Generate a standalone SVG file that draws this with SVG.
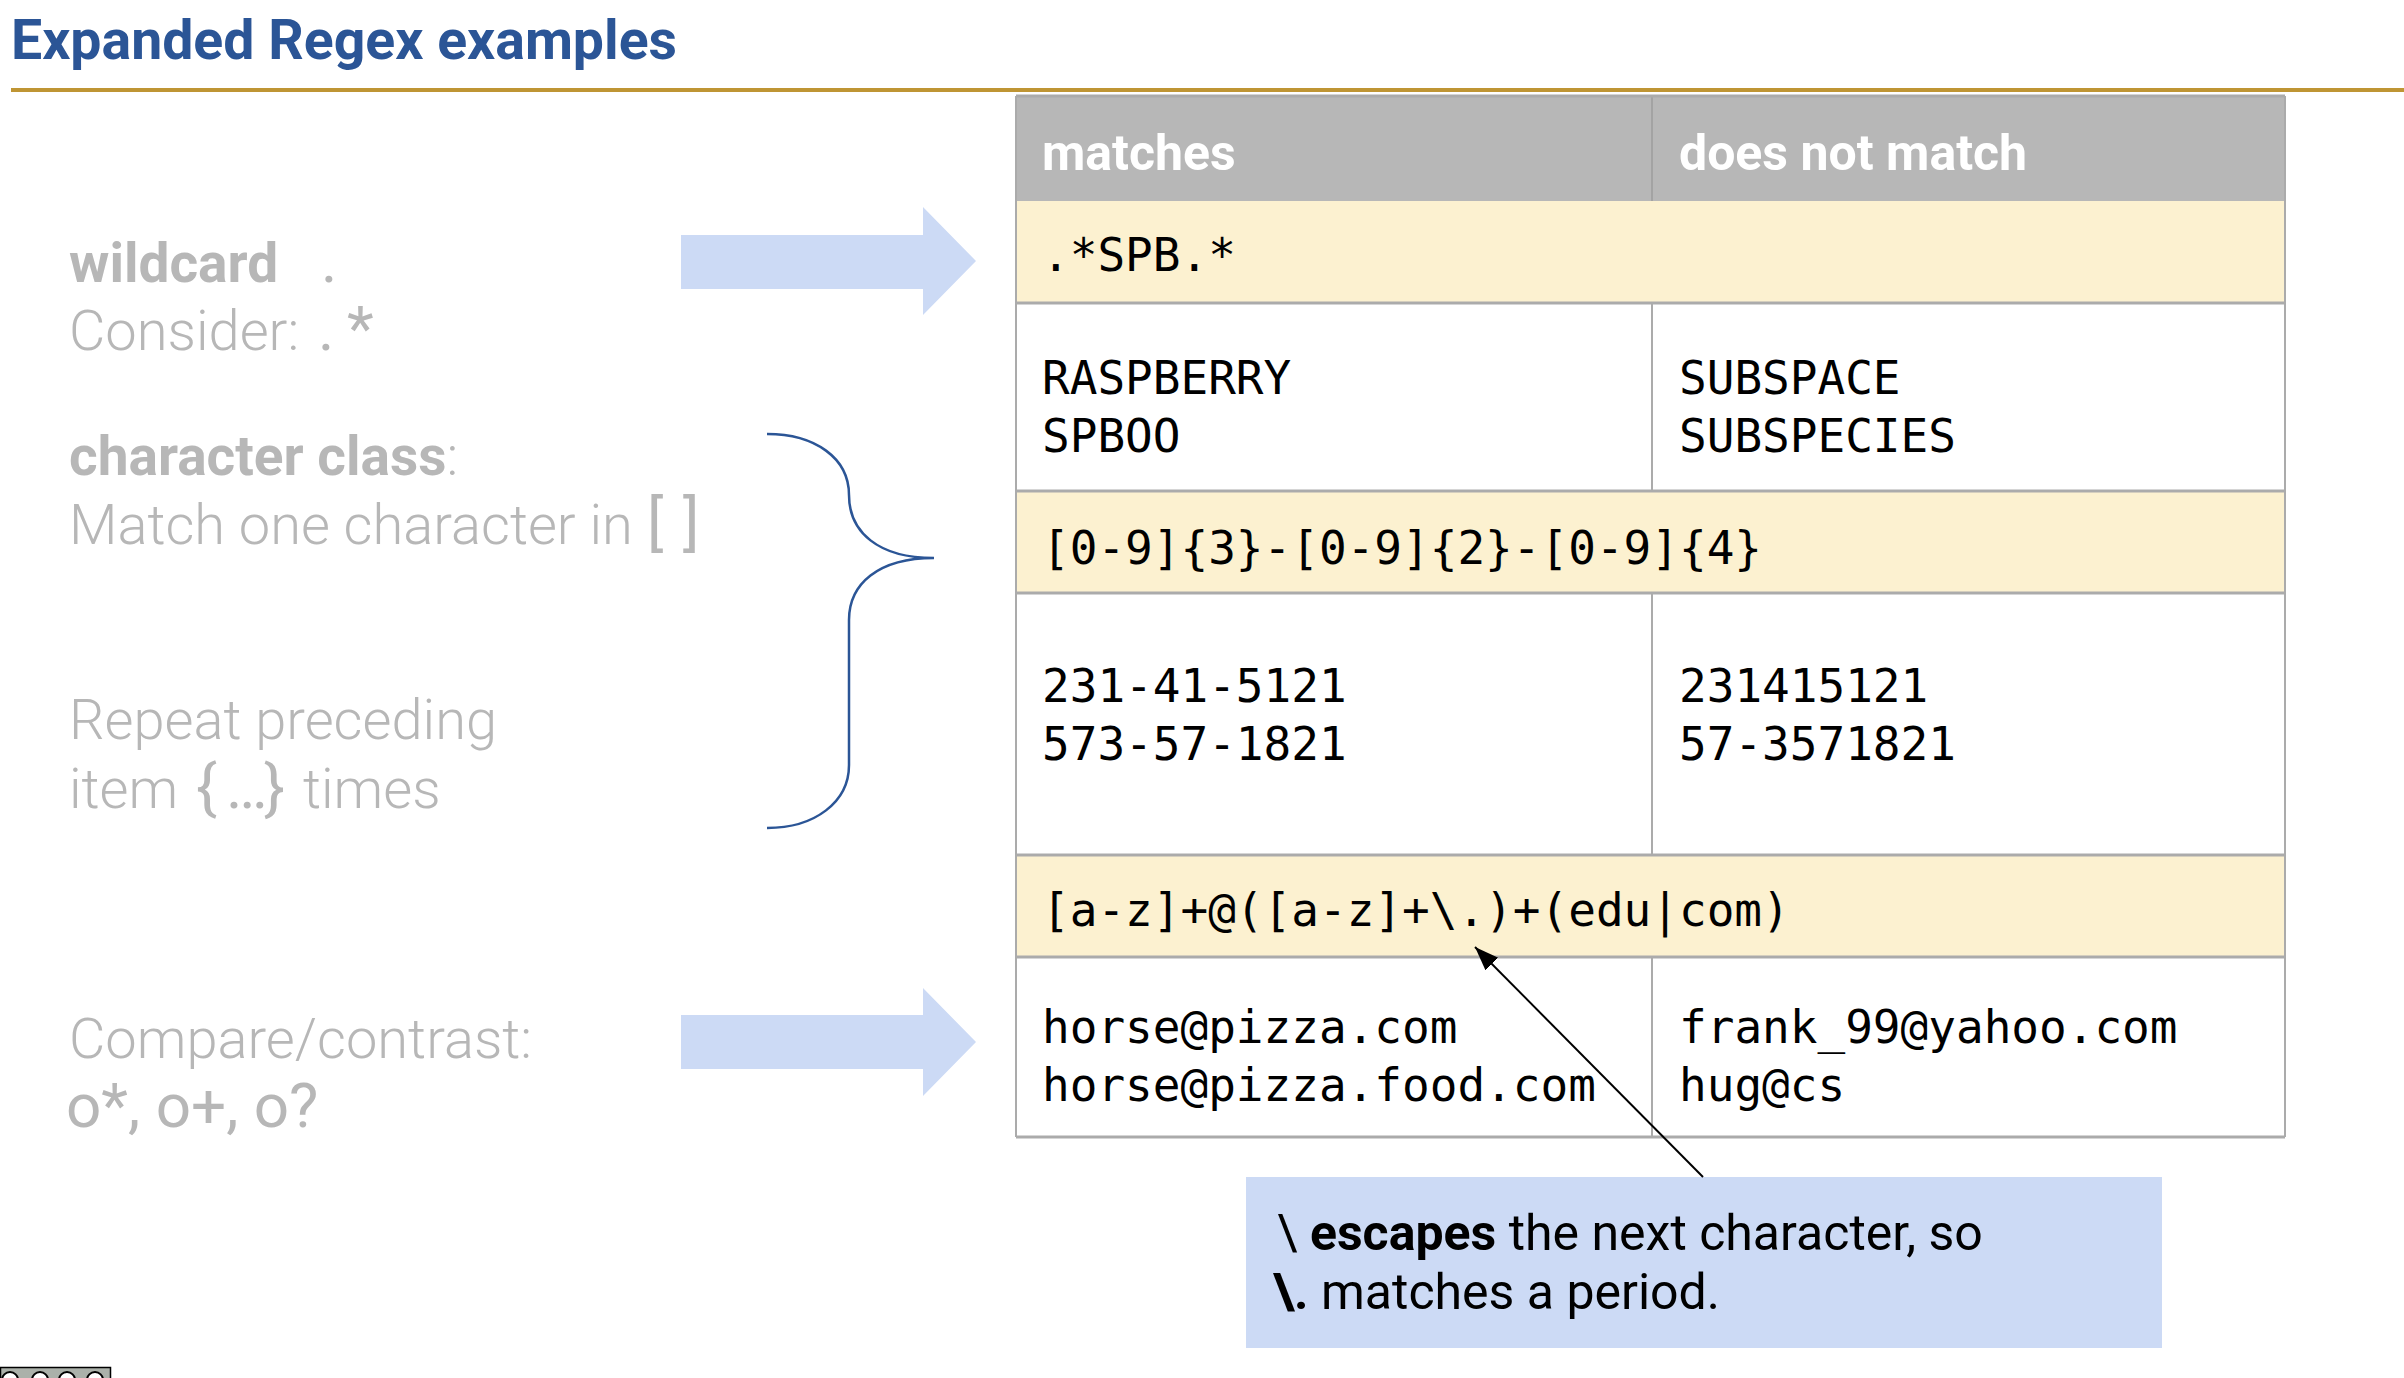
<svg xmlns="http://www.w3.org/2000/svg" width="2404" height="1378" viewBox="0 0 2404 1378">
<defs>
<style>
.title{font-family:Roboto,"Liberation Sans",sans-serif;font-weight:700;font-size:55.4px;fill:#2b5596}
.lbl{font-family:Roboto,"Liberation Sans",sans-serif;font-size:56px;font-weight:300;fill:#b7b7b7}
.b{font-weight:700;font-size:55px}
.code{font-weight:400;font-size:62px}
.hdr{font-family:Roboto,"Liberation Sans",sans-serif;font-weight:700;font-size:50px;fill:#ffffff}
.mono{font-family:"DejaVu Sans Mono","Liberation Mono",monospace;font-size:46px;fill:#000000}
.note{font-family:Roboto,"Liberation Sans",sans-serif;font-size:50px;fill:#000000}
.note .b{font-size:50px}
.yel{fill:#fcf1d0}
.wht{fill:#ffffff}
.hl{stroke:#ababab;stroke-width:3;fill:none}
.vl{stroke:#ababab;stroke-width:2;fill:none}
.bigarrow{fill:#ccdaf5}
</style>
<marker id="ah" markerUnits="userSpaceOnUse" markerWidth="26" markerHeight="20" refX="24" refY="9" orient="auto">
<path d="M0,0 L24,9 L0,18 z" fill="#000000"/>
</marker>
</defs>
<rect x="0" y="0" width="2404" height="1378" fill="#ffffff"/>

<g id="title">
<text class="title" x="11" y="59">Expanded Regex examples</text>
<rect x="11" y="88" width="2393" height="4" fill="#bf9534"/>
</g>

<g id="label-wildcard">
<text class="lbl" y="282"><tspan class="b" x="69">wildcard</tspan><tspan class="code" x="321">.</tspan></text>
<text class="lbl" y="350"><tspan x="69">Consider: </tspan><tspan class="code" x="318">.</tspan><tspan class="code" x="347">*</tspan></text>
</g>

<g id="label-charclass">
<text class="lbl" y="475"><tspan class="b" x="69">character class</tspan><tspan>:</tspan></text>
<text class="lbl" y="544"><tspan x="69">Match one character in </tspan><tspan class="code" x="647">[</tspan><tspan class="code" x="683">]</tspan></text>
</g>

<g id="label-repeat">
<text class="lbl" x="69" y="739">Repeat preceding</text>
<text class="lbl" y="808"><tspan x="69">item </tspan><tspan class="code" x="196">{</tspan><tspan class="code" x="226">…</tspan><tspan class="code" x="264">}</tspan><tspan x="303">times</tspan></text>
</g>

<g id="label-compare">
<text class="lbl" x="69" y="1058">Compare/contrast:</text>
<text class="lbl code" x="66" y="1127">o*, o+, o?</text>
</g>

<g id="arrow-wildcard">
<path class="bigarrow" d="M681,235 L923,235 L923,207 L976,261 L923,315 L923,289 L681,289 z"/>
</g>

<g id="arrow-compare">
<path class="bigarrow" d="M681,1015 L923,1015 L923,988 L976,1042 L923,1096 L923,1069 L681,1069 z"/>
</g>

<g id="brace">
<path d="M767,434 C815,434 849,458 849,495 C849,532 878,558 934,558 C878,558 849,584 849,620 L849,765 C849,802 815,828 767,828" fill="none" stroke="#2b5596" stroke-width="2.5"/>
</g>

<g id="table">
<rect x="1016" y="96" width="1269" height="105" fill="#b7b7b7"/>
<rect class="yel" x="1016" y="201" width="1269" height="102"/>
<rect class="wht" x="1016" y="303" width="1269" height="188"/>
<rect class="yel" x="1016" y="491" width="1269" height="102"/>
<rect class="wht" x="1016" y="593" width="1269" height="262"/>
<rect class="yel" x="1016" y="855" width="1269" height="102"/>
<rect class="wht" x="1016" y="957" width="1269" height="180"/>
<line x1="1652" y1="96" x2="1652" y2="201" stroke="#a3a3a3" stroke-width="2"/>
<line class="vl" x1="1652" y1="303" x2="1652" y2="491"/>
<line class="vl" x1="1652" y1="593" x2="1652" y2="855"/>
<line class="vl" x1="1652" y1="957" x2="1652" y2="1137"/>
<line class="hl" x1="1016" y1="303" x2="2285" y2="303"/>
<line class="hl" x1="1016" y1="491" x2="2285" y2="491"/>
<line class="hl" x1="1016" y1="593" x2="2285" y2="593"/>
<line class="hl" x1="1016" y1="855" x2="2285" y2="855"/>
<line class="hl" x1="1016" y1="957" x2="2285" y2="957"/>
<line class="hl" x1="1016" y1="1137" x2="2285" y2="1137"/>
<line class="hl" x1="1016" y1="96" x2="2285" y2="96"/>
<line class="vl" x1="1016" y1="96" x2="1016" y2="1137"/>
<line class="vl" x1="2285" y1="96" x2="2285" y2="1137"/>
<text class="hdr" x="1042" y="170">matches</text>
<text class="hdr" x="1679" y="170">does not match</text>
<text class="mono" x="1042" y="271">.*SPB.*</text>
<text class="mono" x="1042" y="394">RASPBERRY</text>
<text class="mono" x="1042" y="452">SPBOO</text>
<text class="mono" x="1679" y="394">SUBSPACE</text>
<text class="mono" x="1679" y="452">SUBSPECIES</text>
<text class="mono" x="1042" y="564">[0-9]{3}-[0-9]{2}-[0-9]{4}</text>
<text class="mono" x="1042" y="702">231-41-5121</text>
<text class="mono" x="1042" y="760">573-57-1821</text>
<text class="mono" x="1679" y="702">231415121</text>
<text class="mono" x="1679" y="760">57-3571821</text>
<text class="mono" x="1042" y="926">[a-z]+@([a-z]+\.)+(edu|com)</text>
<text class="mono" x="1042" y="1043">horse@pizza.com</text>
<text class="mono" x="1042" y="1101">horse@pizza.food.com</text>
<text class="mono" x="1679" y="1043">frank_99@yahoo.com</text>
<text class="mono" x="1679" y="1101">hug@cs</text>
</g>

<g id="callout">
<rect x="1246" y="1177" width="916" height="171" fill="#ccdaf5"/>
<text class="note" y="1250"><tspan x="1277">\ </tspan><tspan class="b">escapes</tspan><tspan> the next character, so</tspan></text>
<text class="note" y="1309"><tspan class="b" x="1273">\.</tspan><tspan> matches a period.</tspan></text>
</g>

<g id="connectors">
<line x1="1703" y1="1177" x2="1475" y2="947" stroke="#000000" stroke-width="2" marker-end="url(#ah)"/>
</g>

<g id="cc-badge">
<rect x="0.5" y="1367.5" width="110" height="14" fill="#abb1aa" stroke="#000000" stroke-width="1.5"/>
<circle cx="10" cy="1380" r="8" fill="#ffffff" stroke="#000000" stroke-width="2"/>
<circle cx="40" cy="1380" r="8" fill="#ffffff" stroke="#000000" stroke-width="2"/>
<circle cx="67" cy="1380" r="8" fill="#ffffff" stroke="#000000" stroke-width="2"/>
<circle cx="95" cy="1380" r="8" fill="#ffffff" stroke="#000000" stroke-width="2"/>
</g>
</svg>
